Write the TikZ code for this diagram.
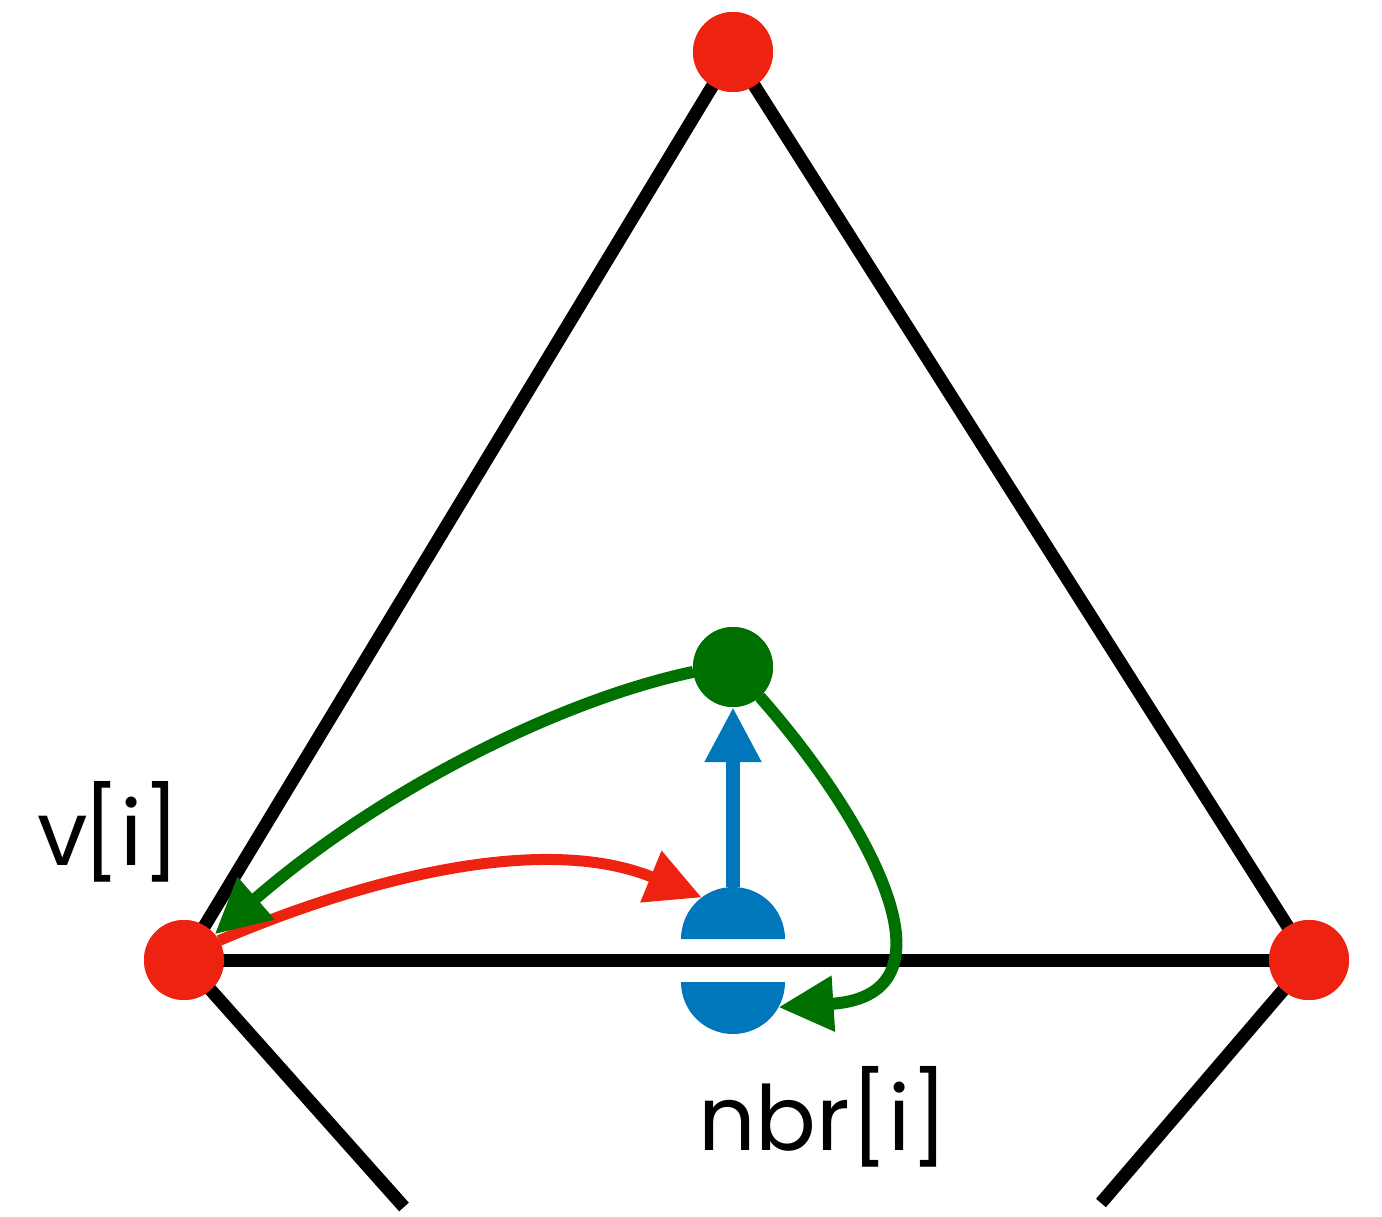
\documentclass[tikz,border=0pt]{standalone}
\usepackage{fontspec}
\setmainfont{Poppins}
\usetikzlibrary{arrows.meta}
\definecolor{cred}{RGB}{238,34,17}
\definecolor{cgreen}{RGB}{0,112,0}
\definecolor{cblue}{RGB}{0,118,187}
\begin{document}
\begin{tikzpicture}[x=1pt,y=-1pt,
  dot/.style={circle,fill=#1,draw=none,minimum size=80pt,inner sep=0pt,outer sep=0pt},
  half/.style={circle,draw=none,minimum size=104pt,inner sep=0pt,outer sep=0pt},
  blackline/.style={line width=13pt,black},
  tipstyle/.style={-{Triangle[length=55pt,width=53pt]}},
  lbl/.style={inner sep=0pt,font=\fontsize{90}{95}\selectfont}]
\useasboundingbox (0,0) rectangle (1382,1216);
% nodes
\node[dot=cred] (top) at (733,52) {};
\node[dot=cred] (lv) at (184,960) {};
\node[dot=cred] (rv) at (1309,960) {};
\node[dot=cgreen] (g) at (733,667) {};
\node[half] (nb) at (733,939) {};
\node[half] (nbb) at (733,982) {};
\coordinate (lleg) at (404,1207);
\coordinate (rleg) at (1101,1203);
% black edges
\draw[blackline] (top.center) -- (lv.center);
\draw[blackline] (top.center) -- (rv.center);
\draw[blackline] (lv.center) -- (rv.center);
\draw[blackline] (lv.center) -- (lleg);
\draw[blackline] (rv.center) -- (rleg);
% redraw dots on top
\fill[cred] (top) circle (40);
\fill[cred] (lv) circle (40);
\fill[cred] (rv) circle (40);
\fill[cgreen] (g) circle (40);
% blue half discs
\fill[cblue] (681,939) arc[start angle=180,end angle=360,radius=52] -- cycle;
\fill[cblue] (681,982) arc[start angle=180,end angle=0,radius=52] -- cycle;
% arrows
\draw[tipstyle,cblue,line width=14pt] (nb.north) -- (g.south);
\draw[tipstyle,cred,line width=11pt] (lv.29) .. controls (380,872) and (550,835) .. (nb.127);
\draw[tipstyle,cgreen,line width=12pt] (g.187) .. controls (560,700) and (380,790) .. (lv.40);
\draw[tipstyle,cgreen,line width=12pt] (g.-48) .. controls (860,810) and (970,995) .. (nbb.-29);
% labels
\node[lbl,anchor=base west] (vl) at (37,865) {v\kern-5pt[i]};
\node[lbl,anchor=base west] (nl) at (698,1150) {nbr[i]};
\end{tikzpicture}
\end{document}
